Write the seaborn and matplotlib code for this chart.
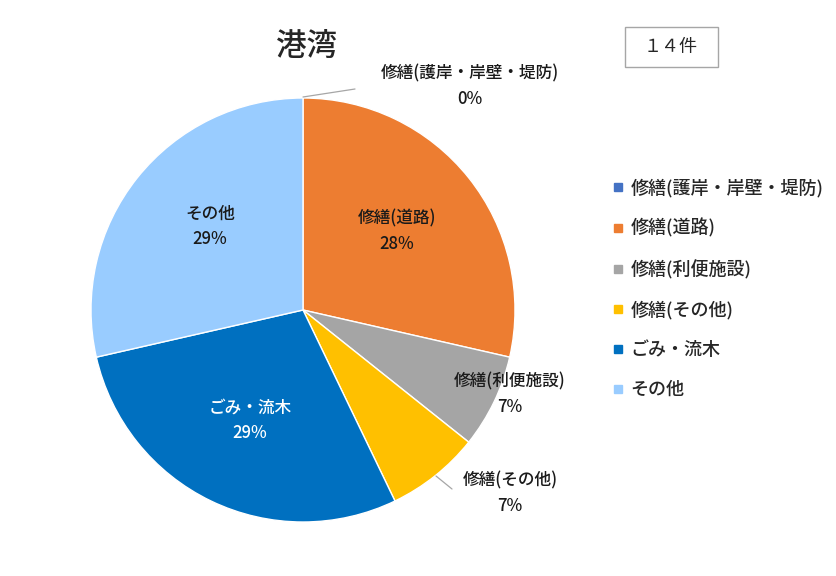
import numpy as np
import seaborn as sns
import matplotlib.pyplot as plt
from matplotlib.lines import Line2D
from matplotlib.patches import Rectangle

sns.set_style("white")
plt.rcParams['font.family'] = ['Noto Sans CJK JP', 'DejaVu Sans']

# データ
categories = ["修繕(護岸・岸壁・堤防)", "修繕(道路)", "修繕(利便施設)",
              "修繕(その他)", "ごみ・流木", "その他"]
counts = [0, 4, 1, 1, 4, 4]
pct_labels = ["0%", "28%", "7%", "7%", "29%", "29%"]
colors = ["#4472C4", "#ED7D31", "#A5A5A5", "#FFC000", "#0070C0", "#99CCFF"]
title = "港湾"
total_label = "１４件"

W, H = 837, 576
fig = plt.figure(figsize=(W / 100, H / 100), dpi=100)
cx, cy, r = 303, 310, 212
ax = fig.add_axes([(cx - r) / W, (H - cy - r) / H, 2 * r / W, 2 * r / H])

wedges, _ = ax.pie(counts, colors=colors, startangle=90, counterclock=False,
                   radius=1, wedgeprops=dict(edgecolor="white", linewidth=1))
ax.set_xlim(-1, 1)
ax.set_ylim(-1, 1)
ax.set_aspect("equal")
ax.axis("off")


def px(x, y):
    return (x - cx) / r, (cy - y) / r


# ラベル位置 (ピクセル)
label_pos = [(470, 86), (397, 231), (510, 394), (510, 493), (250, 420), (210, 226)]
for i, (x, y) in enumerate(label_pos):
    tx, ty = px(x, y)
    col = "white" if i == 4 else "#1a1a1a"
    ax.text(tx, ty, categories[i] + "\n" + pct_labels[i], ha="center", va="center",
            fontsize=12, color=col, linespacing=1.5, clip_on=False,
            fontweight="medium")

# 引き出し線
for (x0, y0), (x1, y1) in [((303, 97), (355, 89)), ((436, 476), (452, 489))]:
    a, b = px(x0, y0)
    c, d = px(x1, y1)
    ax.plot([a, c], [b, d], color="#A6A6A6", lw=0.9, clip_on=False)

fig.text(307 / W, 1 - 46 / H, title, ha="center", va="center", fontsize=22,
         fontweight="medium")

# 件数ボックス
fig.patches.append(Rectangle((625 / W, 1 - 67 / H), 93 / W, 40 / H,
                             transform=fig.transFigure, fill=False,
                             edgecolor="#A6A6A6", lw=1))
fig.text(671 / W, 1 - 47 / H, total_label, ha="center", va="center", fontsize=13)

handles = [Line2D([], [], marker="s", linestyle="none", markersize=6,
                  markerfacecolor=c, markeredgecolor=c) for c in colors]
fig.legend(handles, categories, loc="upper left", bbox_to_anchor=(605 / W, 1 - 171 / H),
           frameon=False, handlelength=0.6, handletextpad=0.4,
           labelspacing=1.2, borderaxespad=0, prop=dict(size=13, weight="medium"))

fig.savefig("out.png", dpi=100)
